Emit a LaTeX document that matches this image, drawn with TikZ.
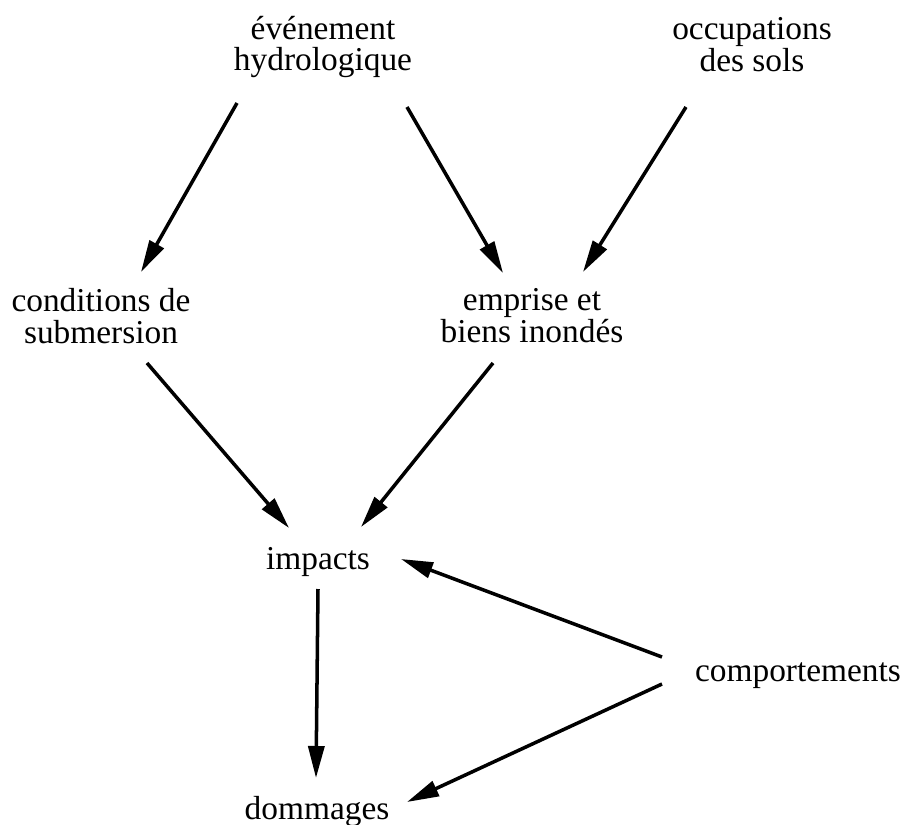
\documentclass[tikz,border=0pt]{standalone}
\usepackage{fontspec}
\setmainfont{Liberation Serif}
\usepackage{tikz}
\usetikzlibrary{arrows.meta,calc}

\begin{document}
\begin{tikzpicture}[
  x=0.02cm, y=-0.02cm,
  font=\fontsize{19}{18.2}\selectfont,
  lbl/.style={align=center, inner sep=0pt},
  arr/.style={-{Triangle[length=0.64cm, width=0.32cm]}, line width=2pt}]
\useasboundingbox (0,0) rectangle (903,825);
% sources
\node[lbl] (evt) at (323,47) {événement\\hydrologique};
\node[lbl] (occ) at (752,45) {occupations\\des sols};
% intermediate
\node[lbl] (cond) at (101,316) {conditions de\\submersion};
\node[lbl] (emp) at (532,316) {emprise et\\biens inondés};
% results
\node[lbl] (imp) at (318,562) {impacts};
\node[lbl] (dom) at (317,812) {dommages};
\node[lbl] (comp) at (798,676) {comportements};
\draw[arr] ($(evt)+(-86,56)$) -- ($(cond)+(40,-44)$);
\draw[arr] ($(evt)+(84,60)$) -- ($(emp)+(-29,-43)$);
\draw[arr] ($(occ)+(-66,62)$) -- ($(emp)+(51,-44)$);
\draw[arr] ($(cond)+(46,47)$) -- ($(imp)+(-29,-34)$);
\draw[arr] ($(emp)+(-39,47)$) -- ($(imp)+(43,-35)$);
\draw[arr] ($(imp)+(0,27)$) -- ($(dom)+(-1,-34)$);
\draw[arr] ($(comp)+(-136,-19)$) -- ($(imp)+(83,-3)$);
\draw[arr] ($(comp)+(-136,8)$) -- ($(dom)+(90,-10)$);
\end{tikzpicture}
\end{document}
